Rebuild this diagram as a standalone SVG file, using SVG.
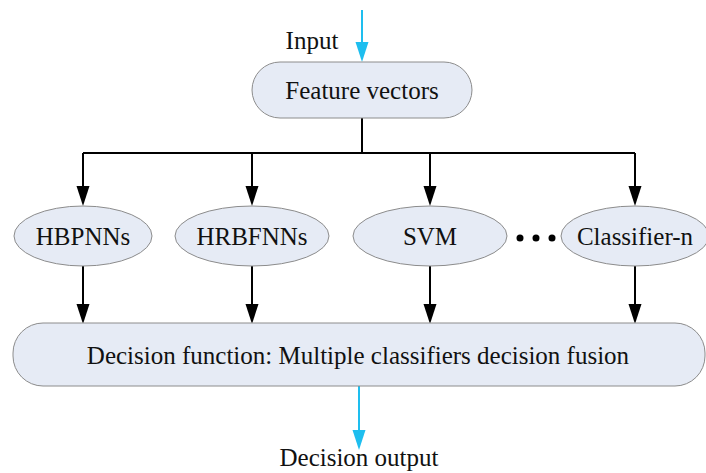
<svg xmlns="http://www.w3.org/2000/svg" width="706" height="473" viewBox="0 0 706 473">
<defs>
<path id="hk" d="M-6.5,-20 L6.5,-20 L0,0 Z" fill="#000"/>
<path id="hc" d="M-6.5,-20 L6.5,-20 L0,0 Z" fill="#1EBEEF"/>
<style>
.box{fill:#E6EBF5;stroke:#8C8C8C;stroke-width:1}
.t{font-family:"Liberation Serif","Times New Roman",serif;font-size:25px;fill:#111;text-anchor:middle}
.k{stroke:#000;stroke-width:2;fill:none}
.c{stroke:#1EBEEF;stroke-width:2;fill:none}
</style>
</defs>
<rect width="706" height="473" fill="#fff"/>
<g id="connectors">
<path class="c" d="M362,10 V45"/>
<use href="#hc" x="362" y="62"/>
<path class="k" d="M362,118 V153 M83,153 H635"/>
<path class="k" d="M83,153 V188 M252,153 V188 M430,153 V188 M635,153 V188"/>
<use href="#hk" x="83" y="206"/>
<use href="#hk" x="252" y="206"/>
<use href="#hk" x="430" y="206"/>
<use href="#hk" x="635" y="206"/>
<path class="k" d="M83,266 V306 M252,266 V306 M430,266 V306 M635,266 V306"/>
<use href="#hk" x="83" y="324"/>
<use href="#hk" x="252" y="324"/>
<use href="#hk" x="430" y="324"/>
<use href="#hk" x="635" y="324"/>
<path class="c" d="M359,386 V432"/>
<use href="#hc" x="359" y="450"/>
</g>
<g id="input"><text class="t" x="312" y="49">Input</text></g>
<g id="feature-vectors">
<rect class="box" x="252" y="62" width="220" height="56" rx="28"/>
<text class="t" x="362" y="99">Feature vectors</text>
</g>
<g id="hbpnns">
<ellipse class="box" cx="83" cy="236" rx="69" ry="30"/>
<text class="t" x="83" y="245">HBPNNs</text>
</g>
<g id="hrbfnns">
<ellipse class="box" cx="252" cy="236" rx="77" ry="30"/>
<text class="t" x="252" y="245">HRBFNNs</text>
</g>
<g id="svm">
<ellipse class="box" cx="430" cy="236" rx="77" ry="30"/>
<text class="t" x="430" y="245">SVM</text>
</g>
<g id="dots">
<circle cx="520" cy="238" r="3.5" fill="#000"/>
<circle cx="536" cy="238" r="3.5" fill="#000"/>
<circle cx="552" cy="238" r="3.5" fill="#000"/>
</g>
<g id="classifier-n">
<ellipse class="box" cx="635" cy="236" rx="74" ry="30"/>
<text class="t" x="635" y="245">Classifier-n</text>
</g>
<g id="decision-function">
<rect class="box" x="13" y="323" width="692" height="63" rx="30"/>
<text class="t" x="358" y="364">Decision function: Multiple classifiers decision fusion</text>
</g>
<g id="decision-output"><text class="t" x="359" y="466">Decision output</text></g>
</svg>
